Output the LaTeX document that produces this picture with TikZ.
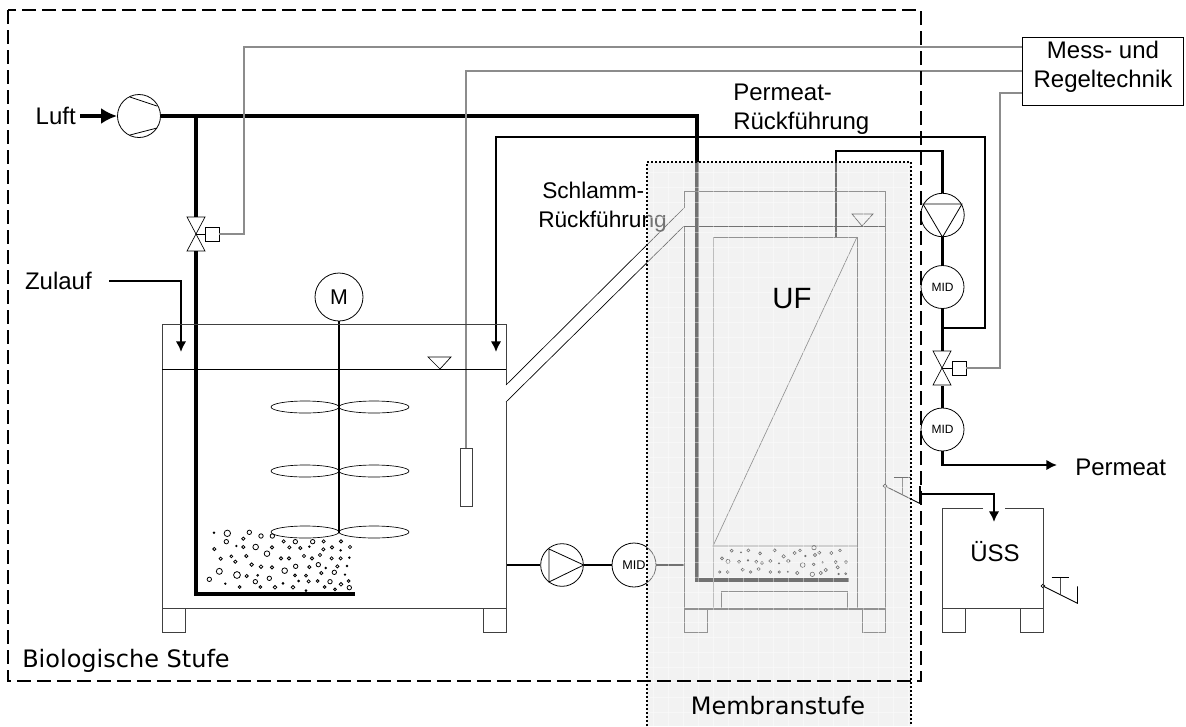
\documentclass[tikz,border=0pt]{standalone}
\usepackage{fontspec}
\setmainfont{Liberation Sans}
\newfontfamily\labelfont{DejaVu Sans}
\usetikzlibrary{arrows.meta}
\tikzstyle{input} = [coordinate]
\tikzstyle{wall} = [draw=black!75, line width=0.75pt]
\tikzstyle{signal} = [draw=black!45, line width=0.8pt]
\tikzstyle{pipe} = [draw, line width=2.2pt]
\tikzstyle{airpipe} = [draw, line width=3.4pt]
\tikzstyle{device} = [draw, circle, line width=0.6pt, inner sep=0pt]
\tikzstyle{actuator} = [draw, rectangle, line width=0.5pt, minimum size=10.5pt, inner sep=0pt]
\tikzstyle{bubble} = [draw, line width=0.6pt]
\tikzstyle{txt} = [font=\fontsize{18}{20}\selectfont, inner sep=0pt]

\begin{document}
\begin{tikzpicture}[x=0.75pt, y=-0.75pt, >={Latex[length=8pt,width=8pt]}]
        \useasboundingbox (0,0) rectangle (1186,726);

        % 放置节点
        \node [input] (luftIn) at (80,116) {};
        \node [device, minimum size=32.25pt] (verd) at (139,116) {};
        \node [input] (airEnd) at (697,116) {};
        \node [input] (airCorner) at (697,580) {};
        \node [input] (airEnd2) at (849,580) {};
        \node [input] (airTee) at (196,116) {};
        \node [input] (valveL) at (196,234) {};
        \node [input] (airBot) at (196,594) {};
        \node [input] (airBot2) at (355,594) {};
        \node [actuator] (actL) at (212,234) {};
        \node [input] (valveR) at (942,368) {};
        \node [actuator] (actR) at (959,368) {};
        \node [device, minimum size=36pt] (motor) at (339,297) {\fontsize{16}{16}\selectfont M};
        \node [input] (shaftEnd) at (339,533) {};
        \node [device, minimum size=32pt] (pumpB) at (562,565) {};
        \node [device, minimum size=33pt] (midB) at (634,565) {\fontsize{9.5}{12}\selectfont MID};
        \node [input] (tankOut) at (506,565) {};
        \node [input] (memIn) at (684,565) {};
        \node [device, minimum size=32.6pt] (pumpP) at (942.5,215) {};
        \node [device, minimum size=32.25pt] (midP) at (942.5,287) {\fontsize{9}{10}\selectfont MID};
        \node [device, minimum size=32.25pt] (midA) at (942.5,429.5) {\fontsize{9}{10}\selectfont MID};
        \node [input] (tee) at (942.5,328) {};
        \node [input] (retRight) at (985,328) {};
        \node [input] (retTop) at (985,137) {};
        \node [input] (retLeft) at (496,137) {};
        \node [input] (retEnd) at (496,352) {};
        \node [input] (permOut) at (836,237) {};
        \node [input] (permTop) at (836,151) {};
        \node [input] (permTop2) at (942.5,151) {};
        \node [input] (permEnd) at (1057,465) {};
        \node [input] (permCorner) at (942.5,465) {};
        \node [input] (zuStart) at (109,281) {};
        \node [input] (zuCorner) at (181,281) {};
        \node [input] (zuEnd) at (181,352) {};
        \node [input] (ussStart) at (920,494) {};
        \node [input] (ussCorner) at (994,494) {};
        \node [input] (ussEnd) at (994,522) {};
        \node [draw, line width=0.6pt, minimum width=120.75pt, minimum height=51pt, inner sep=0pt] (regel) at (1102.5,71) {};
        \node [draw=black!75, line width=0.5pt, minimum width=9pt, minimum height=43.5pt, inner sep=0pt] (sonde) at (466,477) {};
        \node [input] (sigA) at (244,47) {};
        \node [input] (sigB) at (466,71) {};
        \node [input] (sigC) at (1000,93) {};

        % 搅拌器
        \foreach \ey in {407,471,532} {
                \draw [line width=0.5pt] (305,\ey) ellipse [x radius=34, y radius=6];
                \draw [line width=0.5pt] (374,\ey) ellipse [x radius=35, y radius=6];
        }

        % 曝气和回流管路
        \draw [->, >={Latex[length=12pt,width=12pt]}, pipe, line width=2.8pt] (luftIn) -- (verd);
        \draw [airpipe] (verd) -- (airEnd) -- (airCorner) -- (airEnd2);
        \draw [airpipe] (airTee) -- (196,217);
        \draw [airpipe] (196,251) -- (airBot) -- (airBot2);
        \draw [line width=2.2pt] (motor) -- (shaftEnd);
        \draw [pipe] (tankOut) -- (pumpB);
        \draw [pipe] (pumpB) -- (midB);
        \draw [pipe] (midB) -- (memIn);
        \draw [->, pipe] (tee) -- (retRight) -- (retTop) -- (retLeft) -- (retEnd);
        \draw [pipe] (permOut) -- (permTop) -- (permTop2) -- (pumpP);
        \draw [pipe] (pumpP) -- (midP);
        \draw [pipe] (midP) -- (942.5,351);
        \draw [pipe] (942.5,386) -- (midA);
        \draw [->, pipe] (midA) -- (permCorner) -- (permEnd);
        \draw [->, pipe, line width=1.6pt] (zuStart) -- (zuCorner) -- (zuEnd);
        \draw [->, pipe] (ussStart) -- (ussCorner) -- (ussEnd);
        \draw [pipe] (920,486) -- (920,503);

        % 信号线
        \draw [signal] (actL) -- (sigA |- actL) -- (sigA) -- (sigA -| regel.west);
        \draw [signal] (sonde) -- (sigB) -- (sigB -| regel.west);
        \draw [signal] (actR) -- (sigC |- actR) -- (sigC) -- (sigC -| regel.west);

        % 阀
        \foreach \v/\a in {valveL/actL,valveR/actR} {
                \draw [line width=0.5pt] (\v) ++(-9,-17) -- ++(18,0) -- (\v) -- cycle;
                \draw [line width=0.5pt] (\v) ++(-9,17) -- ++(18,0) -- (\v) -- cycle;
                \draw [line width=0.5pt] (\v) -- (\a);
        }

        % 压缩机和泵
        \draw [line width=0.6pt] (130,97) -- (157,106);
        \draw [line width=0.6pt] (130,135) -- (157,128);
        \draw [line width=0.6pt] (549,549) -- (549,582) -- (pumpB.east) -- cycle;
        \draw [line width=0.6pt] (923,204) -- (962,204) -- (pumpP.south) -- cycle;

        % 活性污泥池
        \draw [wall] (506,385) -- (506,324) -- (162,324) -- (162,608) -- (506,608) -- (506,402);
        \draw [line width=0.5pt] (162,369) -- (506,369);
        \draw [line width=0.5pt] (428,357) -- (451,357) -- (440,369) -- cycle;
        \draw [line width=0.5pt] (506,385) -- (684,208);
        \draw [line width=0.5pt] (506,402) -- (684,226);
        \draw [wall] (162,608) rectangle (185,632);
        \draw [wall] (483,608) rectangle (506,632);
        \foreach \bx/\by/\br in {
                192/98/.8,232/100/3.2,298/97/2.2,333/108/2.2,367/108/2.2,280/116/1.6,229/125/2.2,401/124/1.6,436/125/2.2,488/125/2.2,521/124/1.6,573/124/1.6,
                259/138/.7,280/141/1.6,317/141/2.8,366/142/1.6,418/142/1.6,451/144/1.6,478/140/.8,520/148/1.6,546/142/1.6,600/141/1.6,193/147/1.6,351/161/2.8,572/151/.8,
                244/169/1.4,289/168/1.6,212/176/1.6,256/185/1.6,393/175/1.6,417/175/1.6,462/168/1.6,486/175/1.6,510/165/1.6,545/175/1.6,572/175/1.6,598/173/.8,
                305/194/1.8,333/200/1.8,366/202/1.6,437/199/2.2,478/201/1.6,505/194/2.2,527/204/.8,562/199/1.6,591/198/.8,208/214/3,404/212/2.8,514/219/1.6,553/217/2.2,585/224/.7,
                261/225/3.4,290/228/1.6,323/226/.9,435/226/1.4,468/227/1.4,178/238/2.2,358/235/2.2,316/245/2.2,446/243/.9,476/244/1.6,503/243/1.4,540/245/2.2,596/243/1.4,
                226/251/.7,269/261/1.4,331/261/1.4,375/262/1.8,399/250/.9,429/262/1.8,524/261/1.4,573/253/1.8,598/263/2.2,468/272/.9,555/268/1.4} {
                \draw [bubble] ({150+\bx/3},{500+\by/3}) circle [radius=\br];
        }

        % 膜池
        \draw [wall] (684,208) -- (684,191) -- (885,191) -- (885,609);
        \draw [wall] (684,226) -- (684,609);
        \draw [line width=0.5pt] (684,226) -- (885,226);
        \draw [line width=0.5pt] (852,214) -- (873,214) -- (862,226) -- cycle;
        \draw [wall, line width=1.2pt] (684,609) -- (885,609);
        \draw [wall] (713,237) rectangle (857,609);
        \draw [wall, line width=0.5pt] (857,237) -- (713,546) -- (857,546);
        \draw [wall, line width=0.5pt] (721,609) |- (847,591) -- (847,609);
        \draw [wall] (684,609) rectangle (707,632);
        \draw [wall] (862,609) rectangle (885,632);
        \foreach \bx/\by/\br in {
                275/152/1.5,303/157/.6,325/151/1.5,360/160/1.5,404/151/1.5,464/159/1.6,480/151/1.4,522/143/2.2,538/158/1.5,574/159/1.6,600/151/1.4,
                246/175/1.5,264/184/2,297/185/1.5,324/181/.8,349/185/1.5,366/189/1.5,391/183/1.6,431/169/1.7,445/183/1.8,417/190/.7,496/168/.8,525/165/1.6,
                488/195/2.4,521/193/1.4,548/187/.7,587/186/1.5,618/186/1.5,593/202/1.6,239/216/1.2,263/216/1.4,308/209/1.5,332/216/1.3,356/207/1.6,391/216/1.4,
                418/216/1.2,444/215/.7,472/219/1.7,517/223/2.2,542/219/1.7,557/210/1.7,596/222/.8,617/221/1} {
                \draw [bubble, line width=0.45pt] ({640+\bx/3},{500+\by/3}) circle [radius=\br];
        }

        % 排泥阀
        \foreach \tx/\ty in {885/486,1043/586} {
                \draw [line width=0.5pt, fill=white] (\tx,\ty) circle [radius=1.8];
                \draw [line width=0.6pt] (\tx,\ty) ++(1.5,.8) -- ++(33,16.5) -- ++(0,-17);
                \draw [line width=0.75pt, draw=black!70] (\tx,\ty) ++(17.5,8) -- ++(0,-17);
                \draw [line width=0.5pt] (\tx,\ty) ++(8.5,-9) -- ++(17,0);
        }

        % 污泥池
        \draw [wall] (983,508) -- (942,508) -- (942,608) -- (1043,608) -- (1043,508) -- (1005,508);
        \draw [wall] (942,608) rectangle (965,632);
        \draw [wall] (1020,608) rectangle (1043,632);

        \node [txt, align=left, right, font=\fontsize{17}{20}\selectfont] (labSchlamm) at (538,207) {\hspace*{3pt}Schlamm-\\[2pt]Rückführung};

        % 膜区覆盖层
        \fill [black!10, fill opacity=0.5] (647,162) rectangle (911,726);
        \foreach \gx in {653,668,...,908} {
                \draw [white, opacity=0.4, line width=0.4pt] (\gx,162) -- (\gx,726);
        }
        \foreach \gy in {172,187,...,722} {
                \draw [white, opacity=0.4, line width=0.4pt] (647,\gy) -- (911,\gy);
        }
        \draw [line width=1.2pt, dash pattern=on 1.5pt off 1.5pt] (647,726) -- (647,162) -- (911,162) -- (911,726);

        % 文字
        \draw [line width=1.5pt, dash pattern=on 10.5pt off 4.5pt] (8,10) rectangle (921,681);
        \node [txt, left] (labLuft) at (76,116) {Luft};
        \node [txt, left] (labZulauf) at (92,281) {Zulauf};
        \node [txt, align=left, right] (labPermeatR) at (733,109) {Permeat-\\[1.5pt]Rückführung};
        \node [txt, right] (labPermeat) at (1075,467) {Permeat};
        \node [txt, align=center] (labRegel) at (1103,67) {Mess- und\\[1.5pt]Regeltechnik};
        \node [txt, font=\fontsize{22}{24}\selectfont] (labUF) at (792,299) {UF};
        \node [txt, font=\fontsize{18}{20}\selectfont] (labUSS) at (995,552) {ÜSS};
        \node [txt, right, font=\labelfont\fontsize{18}{20}\selectfont] (labBio) at (22,661) {Biologische Stufe};
        \node [txt, font=\labelfont\fontsize{18}{20}\selectfont] (labMem) at (778,706) {Membranstufe};
\end{tikzpicture}
\end{document}
